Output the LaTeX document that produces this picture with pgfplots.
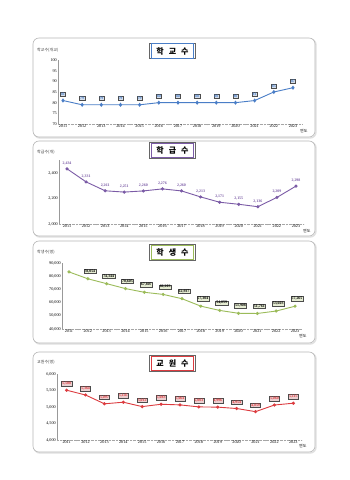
\documentclass[border=0pt]{standalone}
\usepackage{pgfplots}
\pgfplotsset{compat=1.18}
\usepackage{fontspec}
\setmainfont{Liberation Serif}
\newfontfamily\kr{Noto Sans CJK KR}
\definecolor{c1}{HTML}{4A7EC7}
\definecolor{c1f}{HTML}{D5DEEA}
\definecolor{c2}{HTML}{7B5BA6}
\definecolor{c3}{HTML}{9BBB59}
\definecolor{c3f}{HTML}{E6EDD3}
\definecolor{c4}{HTML}{DC3B3F}
\definecolor{c4f}{HTML}{EBCFD0}
\newcommand\tf{\fontsize{4.2}{5}\selectfont}
\pgfplotsset{
  panel/.style={
    scale only axis, clip=false,
    axis x line*=bottom, axis y line*=left,
    x axis line style={black!35, densely dotted},
    y axis line style={black!40},
    /pgf/number format/assume math mode=true,
    xtick={2011,...,2023},
    xticklabel style={/pgf/number format/1000 sep=, font=\tf, inner sep=1pt},
    yticklabel style={/pgf/number format/1000 sep={,}, font=\tf, inner sep=1pt},
    scaled y ticks=false,
    major tick length=0pt,
    minor xtick={2010.5,2011.5,...,2023.5},
    minor tick length=1.5pt, tick align=outside,
    minor tick style={black!35},
  },
  nnc/.style={point meta=y,
    nodes near coords={\pgfmathprintnumber[fixed,precision=0,1000 sep={,}]{\pgfplotspointmeta}},
    every node near coord/.style={font=\fontsize{3.9}{4}\selectfont\bfseries, anchor=south, inner sep=0.7pt, line width=0.3pt, #1}},
}
\newcommand\titleboxt[3]{%
  \node[draw=black!60, line width=0.7pt, minimum width=46pt, minimum height=15.5pt, fill=white] at (172.5,#1) {};
  \node[draw=#2, line width=0.8pt, minimum width=42.5pt, minimum height=12pt, font=\kr\bfseries\fontsize{8}{8}\selectfont] at (172.5,#1) {#3};}
\begin{document}
\begin{tikzpicture}[x=1pt,y=1pt]
\useasboundingbox (0,0) rectangle (350,480);
\fill[white] (0,0) rectangle (350,480);
% panel frames
\foreach \a/\b in {343/442, 244/339, 137/239, 28/128} {
  \draw[black!12, line width=1.4pt, rounded corners=6pt] (34,\a-1) rectangle (316,\b-1);
  \draw[black!28, line width=0.6pt, rounded corners=6pt, fill=white] (33,\a) rectangle (315,\b);
}
% ---------- panel 1
\begin{axis}[panel, at={(58pt,356pt)}, anchor=south west, width=244pt, height=64pt,
  xmin=2010.74, xmax=2023.47, ymin=70, ymax=100, ytick={70,75,...,100}]
\addplot[c1, line width=0.9pt, mark=diamond*, mark size=1.4pt,
  nnc={fill=c1f, draw=black!70, yshift=4pt}] coordinates {
(2011,81) (2012,79) (2013,79) (2014,79) (2015,79) (2016,80) (2017,80)
(2018,80) (2019,80) (2020,80) (2021,81) (2022,85) (2023,87)};
\end{axis}
\titleboxt{429}{c1}{학\hspace{5pt}교\hspace{5pt}수}
\node[anchor=west, font=\kr\fontsize{4}{5}\selectfont, text=black!75, inner sep=0] at (37,430) {학교수(개교)};
\node[anchor=west, font=\kr\fontsize{4}{5}\selectfont, inner sep=0] at (300,349) {연도};
% ---------- panel 2
\begin{axis}[panel, at={(59pt,256pt)}, anchor=south west, width=245pt, height=63.6pt,
  xmin=2010.58, xmax=2023.42, ymin=2000, ymax=2500, ytick={2000,2200,2400}]
\addplot[c2, line width=0.9pt, mark=*, mark size=1.1pt, nnc={yshift=3pt}] coordinates {
(2011,2434) (2012,2331) (2013,2261) (2014,2251) (2015,2260) (2016,2276) (2017,2260)
(2018,2213) (2019,2171) (2020,2155) (2021,2136) (2022,2209) (2023,2298)};
\end{axis}
\titleboxt{329.5}{c2}{학\hspace{5pt}급\hspace{5pt}수}
\node[anchor=west, font=\kr\fontsize{4}{5}\selectfont, text=black!75, inner sep=0] at (37,328) {학급수(개)};
\node[anchor=west, font=\kr\fontsize{4}{5}\selectfont, inner sep=0] at (303,249) {연도};
% ---------- panel 3
\begin{axis}[panel, at={(62pt,151pt)}, anchor=south west, width=240pt, height=66pt,
  xmin=2010.63, xmax=2023.37, ymin=40000, ymax=90000, ytick={40000,50000,...,90000}]
\addplot[c3, line width=0.9pt, mark=*, mark size=1.1pt] coordinates {
(2011,83250) (2012,78054) (2013,74344) (2014,70605) (2015,67807) (2016,66203) (2017,62937)
(2018,57304) (2019,54059) (2020,51908) (2021,51761) (2022,53603) (2023,57265)};
\addplot[draw=none, mark=none, nnc={fill=c3f, draw=black!70, yshift=5pt, xshift=2pt}] coordinates {
(2012,78054) (2013,74344) (2014,70605) (2015,67807) (2016,66203) (2017,62937)
(2018,57304) (2019,54059) (2020,51908) (2021,51761) (2022,53603) (2023,57265)};
\end{axis}
\titleboxt{227.5}{c3}{학\hspace{5pt}생\hspace{5pt}수}
\node[anchor=west, font=\kr\fontsize{4}{5}\selectfont, text=black!75, inner sep=0] at (37,228) {학생수(명)};
\node[anchor=west, font=\kr\fontsize{4}{5}\selectfont, inner sep=0] at (299,144) {연도};
% ---------- panel 4
\begin{axis}[panel, at={(57pt,40pt)}, anchor=south west, width=245pt, height=66pt,
  xmin=2010.49, xmax=2023.46, ymin=4000, ymax=6000, ytick={4000,4500,...,6000}]
\addplot[c4, line width=0.9pt, mark=*, mark size=1.1pt,
  nnc={fill=c4f, draw=black!70, yshift=4pt}] coordinates {
(2011,5508) (2012,5364) (2013,5097) (2014,5145) (2015,5012) (2016,5083) (2017,5064)
(2018,5003) (2019,4996) (2020,4954) (2021,4859) (2022,5060) (2023,5115)};
\end{axis}
\titleboxt{116.5}{c4}{교\hspace{5pt}원\hspace{5pt}수}
\node[anchor=west, font=\kr\fontsize{4}{5}\selectfont, text=black!75, inner sep=0] at (37,118) {교원수(명)};
\node[anchor=west, font=\kr\fontsize{4}{5}\selectfont, inner sep=0] at (299,34) {연도};
\end{tikzpicture}
\end{document}
